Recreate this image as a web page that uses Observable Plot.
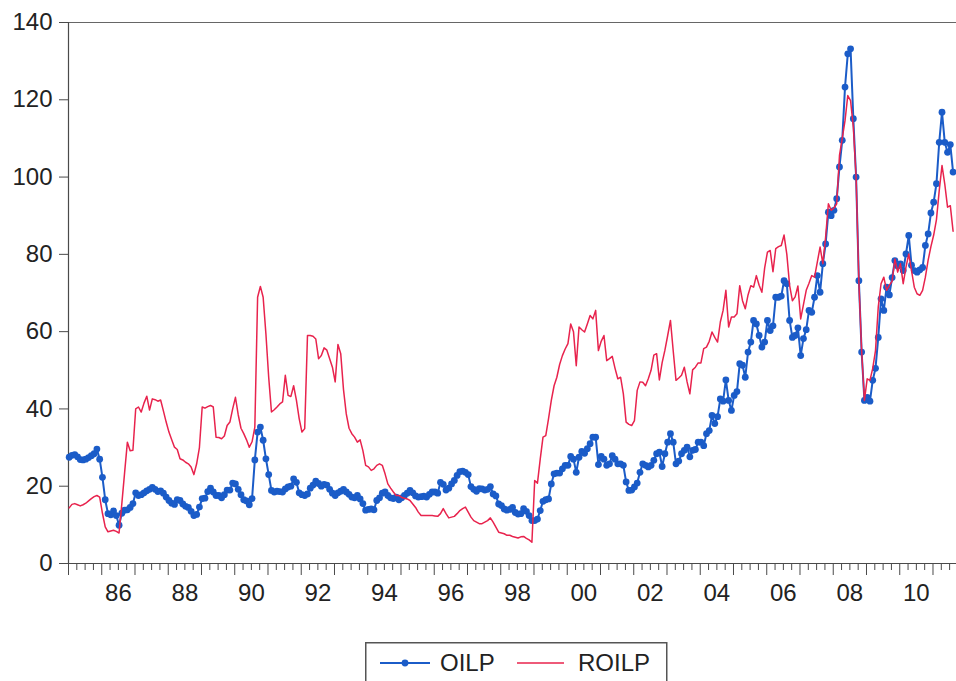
<!DOCTYPE html>
<html><head><meta charset="utf-8">
<script src="https://cdn.jsdelivr.net/npm/d3@7"></script>
<script src="https://cdn.jsdelivr.net/npm/@observablehq/plot@0.6"></script>
<style>
body{margin:0;background:#fff;font-family:"Liberation Sans",Arial,Helvetica,sans-serif;}
#chart{position:absolute;left:0;top:0;}
#legend{position:absolute;left:365px;top:642px;}
</style></head><body>
<div id="chart"></div>
<div id="legend"></div>
<script>
const startYear = 1985;
const seriesNames = ["OILP", "ROILP"];
const seriesColors = ["#1b5cc8", "#e8234d"];
const yTicks = [0, 20, 40, 60, 80, 100, 120, 140];
const xLabels = ["86","88","90","92","94","96","98","00","02","04","06","08","10"];
const xLabelYears = [1986,1988,1990,1992,1994,1996,1998,2000,2002,2004,2006,2008,2010];

// OILP, monthly from 1985M01
const oilp = [
27.5,28.0,28.2,27.6,26.9,26.8,27.0,27.4,27.9,28.4,29.6,27.0,
22.3,16.5,12.9,12.6,13.6,12.4,9.9,13.0,13.8,13.9,14.5,15.5,
18.3,17.6,17.8,18.3,18.8,19.2,19.7,19.2,18.6,18.8,18.2,17.2,
16.3,15.6,15.3,16.5,16.3,15.4,14.8,14.5,13.5,12.4,12.7,14.6,
16.8,16.9,18.6,19.5,18.5,17.6,17.6,17.0,17.8,19.0,19.0,20.8,
20.6,19.2,17.8,16.5,16.2,15.2,16.8,26.8,34.0,35.3,31.9,27.1,
23.0,18.9,18.5,18.7,18.6,18.5,19.3,19.8,20.0,21.9,21.0,18.3,
17.8,17.6,18.0,19.5,20.3,21.3,20.7,20.0,20.5,20.3,19.2,18.2,
17.6,18.3,18.7,19.2,18.5,17.9,17.2,17.0,17.6,16.7,15.5,13.8,
14.0,14.1,13.9,16.3,17.0,18.2,18.5,17.6,17.0,16.8,17.2,16.5,
17.0,17.6,18.2,18.9,18.3,17.5,17.2,17.3,17.4,17.2,17.9,18.5,
18.5,18.2,21.0,20.5,19.0,19.5,20.6,21.5,22.8,23.8,23.9,23.6,
23.0,19.9,19.2,18.7,19.4,19.3,19.0,19.2,19.9,18.0,17.5,15.4,
15.0,14.1,13.8,14.0,14.5,13.2,12.8,12.9,14.2,13.5,12.4,11.1,
11.1,11.5,13.7,16.1,16.5,16.7,20.6,23.2,23.4,23.4,24.5,25.4,
25.4,27.7,27.0,23.6,27.5,29.0,28.5,29.7,31.0,32.7,32.7,25.6,
27.7,27.0,25.4,25.8,27.9,27.0,25.8,25.8,25.4,21.1,18.9,19.0,
19.8,20.8,23.6,25.8,25.4,25.0,25.4,26.7,28.4,28.8,25.1,28.4,
31.4,33.6,31.4,25.8,26.5,28.4,29.3,30.1,27.6,29.3,29.5,31.4,
31.4,30.5,33.6,34.4,38.3,36.2,38.0,42.6,42.0,47.5,42.2,39.6,
43.5,44.5,51.7,51.3,48.2,54.7,57.3,62.9,62.0,59.0,56.0,57.3,
62.9,60.3,61.5,68.9,68.9,69.2,73.2,72.4,62.9,58.5,59.0,61.0,
53.8,58.2,60.5,65.5,65.0,68.9,74.5,70.2,77.6,82.7,90.9,90.0,
91.4,94.4,102.6,109.5,123.3,131.9,133.2,115.1,100.0,73.2,54.7,42.2,
43.0,42.0,47.4,50.5,58.5,68.5,65.5,71.5,69.5,74.0,78.4,77.0,
77.5,75.8,80.1,84.9,77.2,75.8,75.4,76.0,76.6,82.3,85.3,90.7,
93.5,98.3,109.0,116.8,109.0,106.4,108.4,101.3
];

// ROILP, monthly from 1985M01
const roilp = [
14.4,15.3,15.5,15.2,14.9,15.2,15.6,16.2,16.8,17.3,17.6,17.2,
13.0,9.5,8.2,8.4,8.6,8.3,7.9,15.5,23.5,31.4,29.2,29.3,
40.0,40.5,39.2,41.5,43.3,39.7,42.6,42.4,42.0,42.3,39.5,36.6,
34.0,32.0,30.1,29.5,27.1,26.8,26.2,25.8,25.0,23.0,25.8,30.0,
40.5,40.2,40.6,40.9,40.5,32.7,32.6,32.3,33.0,35.7,36.6,40.0,
43.0,38.5,35.0,33.6,32.0,30.1,31.5,35.3,68.9,71.7,68.9,59.4,
48.2,39.2,39.8,40.5,41.3,41.8,48.7,43.5,43.2,46.0,42.3,37.5,
34.0,34.9,59.0,59.0,58.8,58.1,53.0,53.8,55.8,55.2,53.0,50.8,
47.0,56.7,54.3,45.0,38.7,35.0,33.6,32.7,31.4,32.0,29.2,25.4,
25.0,24.1,24.5,25.4,25.8,25.4,23.2,20.6,19.5,18.5,17.6,17.6,
17.1,16.9,16.7,16.3,15.4,14.5,13.3,12.4,12.4,12.4,12.4,12.4,
12.3,12.2,12.9,14.2,12.9,11.8,12.0,12.2,12.9,13.7,14.2,14.6,
13.3,12.0,11.1,10.7,10.3,10.3,10.7,11.1,11.8,10.7,9.4,8.1,
7.9,7.7,7.3,7.3,7.0,6.8,6.6,6.9,7.0,6.5,6.1,5.5,
21.5,20.8,27.0,32.7,33.1,37.5,42.2,46.0,48.2,51.5,53.8,55.5,
56.9,62.0,60.0,51.2,61.2,60.5,59.9,62.0,64.2,63.3,65.5,55.1,
57.5,59.0,52.5,53.0,53.6,50.5,47.8,48.2,43.9,36.6,36.0,35.7,
37.0,44.8,47.0,46.9,46.0,47.8,50.0,53.9,54.3,47.5,52.0,55.2,
59.0,62.9,55.0,47.4,48.0,48.7,50.8,47.0,43.9,50.1,50.8,51.9,
51.9,55.6,56.0,57.5,59.9,58.5,57.3,62.5,65.5,70.7,61.2,63.8,
63.8,64.6,71.9,68.0,65.9,69.5,71.9,71.5,74.5,72.0,70.2,76.5,
80.6,81.0,75.5,81.5,82.0,82.3,85.0,80.0,72.0,68.0,69.0,71.8,
63.3,67.0,70.7,72.5,74.5,74.1,78.0,81.9,77.6,84.5,93.1,91.4,
92.0,93.1,105.6,110.0,114.6,121.1,119.8,112.9,100.0,72.9,55.0,42.2,
47.8,47.4,50.5,55.1,66.4,72.4,74.1,70.7,72.0,73.0,78.8,75.4,
77.6,72.4,76.7,80.1,75.8,71.5,69.8,69.4,70.7,74.1,78.5,82.0,
85.0,89.0,96.5,103.0,98.2,92.2,92.6,86.0
];

const toRows = arr => arr.map((v, i) => ({t: startYear + (i + 0.25) / 12, v}));
const oilRows = toRows(oilp);
const roilRows = toRows(roilp);

const xEnd = 2011.707;
const majorTicks = d3.range(startYear, 2012);
const minorTicks = d3.range(startYear * 4, 2011.5 * 4 + 1).map(q => q / 4).filter(q => q % 1 !== 0);
const labelPos = xLabelYears.map(y => y + 0.5);
const labelMap = new Map(labelPos.map((p, i) => [p, xLabels[i]]));

const axisColor = "#4a4a4a";
const textColor = "#222";

const chart = Plot.plot({
  width: 956,
  height: 620,
  marginLeft: 68,
  marginRight: 0,
  marginTop: 22,
  marginBottom: 57,
  x: {domain: [startYear, xEnd], axis: null},
  y: {domain: [0, 140], axis: null},
  style: {fontFamily: "'Liberation Sans', Arial, Helvetica, sans-serif", fontSize: "24px", color: textColor, background: "#fff", overflow: "visible"},
  marks: [
    Plot.ruleY([140], {stroke: "#666", strokeWidth: 1}),
    Plot.axisY({ticks: yTicks, label: null, tickSize: 9, tickPadding: 7, fontSize: 24, stroke: axisColor, tickFormat: d => String(d)}),
    Plot.axisX({ticks: minorTicks, label: null, tickSize: 7, tickFormat: () => "", stroke: axisColor}),
    Plot.axisX({ticks: majorTicks, label: null, tickSize: 12, tickFormat: () => "", stroke: axisColor}),
    Plot.axisX({ticks: labelPos, label: null, tickSize: 0, tickPadding: 20, fontSize: 24, tickFormat: d => labelMap.get(d)}),
    Plot.ruleX([startYear], {stroke: axisColor, strokeWidth: 1.2}),
    Plot.ruleY([0], {stroke: axisColor, strokeWidth: 1.2}),
    Plot.line(oilRows, {x: "t", y: "v", stroke: seriesColors[0], strokeWidth: 2}),
    Plot.dot(oilRows, {x: "t", y: "v", r: 3.4, fill: seriesColors[0], stroke: "none"}),
    Plot.line(roilRows, {x: "t", y: "v", stroke: seriesColors[1], strokeWidth: 1.5})
  ]
});
document.getElementById("chart").appendChild(chart);

// Legend below the chart
const lg = d3.select("#legend").append("svg")
  .attr("width", 303).attr("height", 42)
  .style("font-family", "'Liberation Sans', Arial, Helvetica, sans-serif")
  .style("overflow", "visible");
lg.append("rect").attr("x", 0.75).attr("y", 0.75).attr("width", 301).attr("height", 60)
  .attr("fill", "#fff").attr("stroke", "#555").attr("stroke-width", 1.5);
lg.append("line").attr("x1", 15).attr("x2", 65).attr("y1", 21).attr("y2", 21)
  .attr("stroke", seriesColors[0]).attr("stroke-width", 2);
lg.append("circle").attr("cx", 40).attr("cy", 21).attr("r", 3.4).attr("fill", seriesColors[0]);
lg.append("text").attr("x", 75).attr("y", 29).attr("font-size", 24).attr("fill", textColor).text(seriesNames[0]);
lg.append("line").attr("x1", 152).attr("x2", 199).attr("y1", 21).attr("y2", 21)
  .attr("stroke", seriesColors[1]).attr("stroke-width", 1.5);
lg.append("text").attr("x", 213).attr("y", 29).attr("font-size", 24).attr("fill", textColor).text(seriesNames[1]);
</script>
</body></html>
